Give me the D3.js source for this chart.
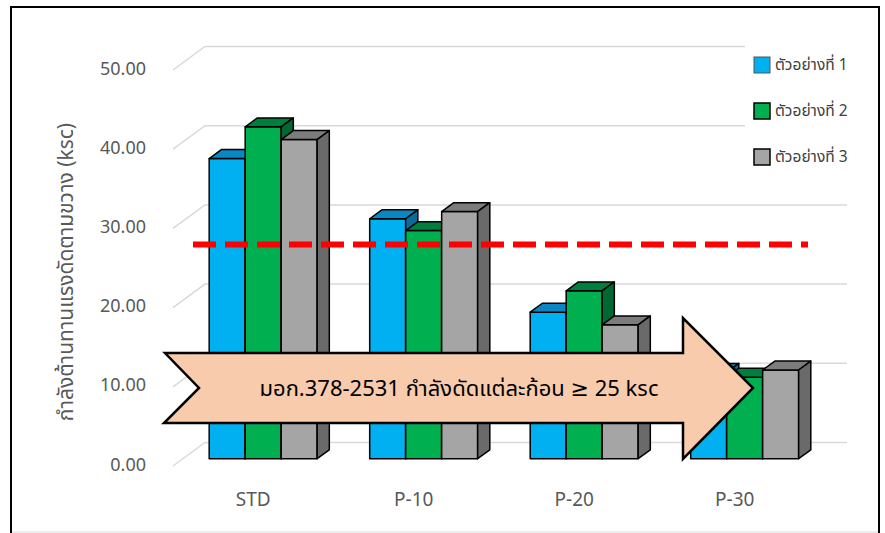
<!DOCTYPE html>
<html>
<head>
<meta charset="utf-8">
<script src="https://cdn.jsdelivr.net/npm/d3@7"></script>
<style>
  html, body { margin: 0; padding: 0; background: #fff; }
  svg { display: block; }
  text { font-family: "Noto Sans Thai", "Noto Sans", Tahoma, "DejaVu Sans", sans-serif; }
</style>
</head>
<body>
<svg id="chart" width="885" height="533"></svg>
<script>
// Flexural strength per sample set (ksc)
const categories = ["STD", "P-10", "P-20", "P-30"];
const seriesNames = ["ตัวอย่างที่ 1", "ตัวอย่างที่ 2", "ตัวอย่างที่ 3"];
const sample1 = [37.9, 30.3, 18.5, 10.9];
const sample2 = [41.9, 28.8, 21.2, 10.3];
const sample3 = [40.3, 31.2, 16.9, 11.2];
const yTicks = [0, 10, 20, 30, 40, 50];
const standardValue = 25;
const yTitle = "กำลังต้านทานแรงดัดตามขวาง  (ksc)";
const noteText = "มอก.378-2531 กำลังดัดแต่ละก้อน \u2265 25 ksc";

const seriesValues = [sample1, sample2, sample3];
const faceColors = [
  { front: "#00B0F0", top: "#0A86C2", side: "#096C9C" },
  { front: "#00B050", top: "#007E3C", side: "#006830" },
  { front: "#A5A5A5", top: "#7C7C7C", side: "#6A6A6A" }
];

const svg = d3.select("#chart");

// oblique 3D frame: front plane + depth offset
const X0 = 173, X1 = 815, Y0 = 466;
const DX = 32, DY = 23.5;
const y = d3.scaleLinear().domain([0, 50]).range([0, 396]);
const x = d3.scaleBand().domain(categories).range([X0, X1]).padding(0);
const xs = d3.scaleBand().domain(d3.range(seriesNames.length))
  .range([0, x.bandwidth()]).paddingInner(0).paddingOuter(0.73);
const P = (px, v, z) => [px + DX * z, Y0 - y(v) - DY * z];
const Z0 = 0.31, Z1 = 0.69;

// outer frame
svg.append("rect").attr("x", 11).attr("y", 7).attr("width", 868).attr("height", 540)
  .attr("fill", "none").attr("stroke", "#000").attr("stroke-width", 2);
svg.append("line").attr("x1", 12).attr("x2", 878).attr("y1", 532).attr("y2", 532)
  .attr("stroke", "#d9d9d9").attr("stroke-width", 1);

// gridlines on side and back walls
const grid = svg.append("g");
yTicks.forEach(v => {
  const a = P(X0, v, 0), b = P(X0, v, 1), c = P(X1, v, 1);
  grid.append("path")
    .attr("d", `M${a}L${b}L${c}`)
    .attr("fill", "none").attr("stroke", "#d9d9d9").attr("stroke-width", 1.5);
});

// value axis labels
svg.append("g").selectAll("text").data(yTicks).join("text")
  .attr("x", 146).attr("y", d => Y0 - y(d) - 1)
  .attr("text-anchor", "end").attr("dominant-baseline", "central")
  .attr("font-size", 18).attr("fill", "#595959")
  .text(d => d3.format(".2f")(d));

// category labels
svg.append("g").selectAll("text").data(categories).join("text")
  .attr("x", d => x(d) + x.bandwidth() / 2).attr("y", 500)
  .attr("text-anchor", "middle").attr("dominant-baseline", "central")
  .attr("font-size", 19).attr("fill", "#595959")
  .text(d => d);

// axis title
svg.append("text")
  .attr("transform", "translate(66,272) rotate(-90)")
  .attr("text-anchor", "middle").attr("dominant-baseline", "central")
  .attr("font-size", 21).attr("fill", "#595959")
  .text(yTitle);

// 3D bars, drawn left to right so later faces cover earlier sides
const bars = svg.append("g").attr("stroke", "#000").attr("stroke-width", 1.5)
  .attr("stroke-linejoin", "round");
const poly = pts => "M" + pts.map(p => p.join(",")).join("L") + "Z";
categories.forEach((cat, ci) => {
  seriesValues.forEach((vals, si) => {
    const v = vals[ci];
    const l = x(cat) + xs(si), r = l + xs.bandwidth();
    const c = faceColors[si];
    bars.append("path").attr("fill", c.front)
      .attr("d", poly([P(l, 0, Z0), P(r, 0, Z0), P(r, v, Z0), P(l, v, Z0)]));
    bars.append("path").attr("fill", c.top)
      .attr("d", poly([P(l, v, Z0), P(r, v, Z0), P(r, v, Z1), P(l, v, Z1)]));
    bars.append("path").attr("fill", c.side)
      .attr("d", poly([P(r, 0, Z0), P(r, 0, Z1), P(r, v, Z1), P(r, v, Z0)]));
  });
});

// standard limit line
const ly = P(X0, standardValue, 1)[1];
svg.append("line")
  .attr("x1", X0 + 20).attr("x2", X1 - 7).attr("y1", ly).attr("y2", ly)
  .attr("stroke", "#FF0000").attr("stroke-width", 6).attr("stroke-dasharray", "23 9");

// annotation arrow
const arrow = [[165, 353], [683, 353], [683, 318], [753, 388], [683, 459],
               [683, 423], [164, 423], [199, 388]];
svg.append("path").attr("d", poly(arrow))
  .attr("fill", "#F8CBAD").attr("stroke", "#000").attr("stroke-width", 2.5)
  .attr("stroke-linejoin", "miter");
svg.append("text").attr("x", 459).attr("y", 389)
  .attr("text-anchor", "middle").attr("dominant-baseline", "central")
  .attr("font-size", 22).attr("fill", "#000")
  .text(noteText);

// legend
const legend = svg.append("g");
legend.append("rect").attr("x", 745).attr("y", 36).attr("width", 132).attr("height", 150)
  .attr("fill", "#fff");
seriesNames.forEach((name, i) => {
  const cy = 65 + i * 46;
  legend.append("rect").attr("x", 754).attr("y", cy - 8).attr("width", 16).attr("height", 16)
    .attr("fill", faceColors[i].front)
    .attr("stroke", i === 0 ? "#555" : "#000").attr("stroke-width", i === 0 ? 1 : 1.5);
  legend.append("text").attr("x", 775).attr("y", cy)
    .attr("dominant-baseline", "central").attr("font-size", 15.5).attr("fill", "#404040")
    .text(name);
});
</script>
</body>
</html>
